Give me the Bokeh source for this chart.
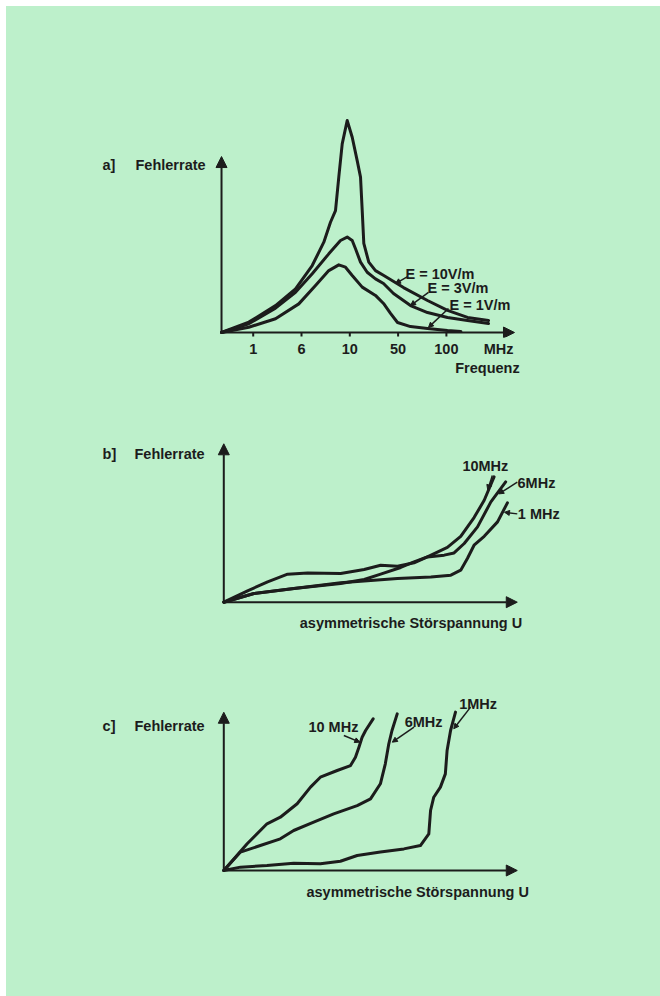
from bokeh.plotting import figure
from bokeh.models import Range1d, Arrow, NormalHead, Label, FixedTicker, LinearAxis, Spacer
from bokeh.layouts import column, row
from bokeh.embed import file_html
from bokeh.resources import INLINE

BG = "#bdf0cb"
INK = "#1c1c1c"
FONT = "Liberation Sans"
FS = "14.5px"

# ---------------- panel a: Fehlerrate vs Frequenz ----------------
freq_ticks = [1, 2, 3, 4, 5]
freq_labels = ["1", "6", "10", "50", "100"]
unit_pos = 6.08
unit_label = "MHz"
xname_pos = 5.85
xname_a = "Frequenz"

a10_x = [0.344, 0.909, 1.462, 1.876, 2.222, 2.462, 2.600, 2.704, 2.772, 2.843, 2.946,
         3.050, 3.153, 3.222, 3.257, 3.290, 3.393, 3.532, 3.704, 4.112, 4.609, 5.023, 5.437, 5.872]
a10_y = [0.0, 4.9, 12.7, 20.6, 31.6, 42.6, 52.0, 57.5, 73.3, 89.0, 100.0,
         92.1, 81.1, 73.3, 57.5, 42.0, 33.2, 29.2, 26.9, 21.2, 15.1, 10.4, 7.1, 5.7]

a3_x = [0.344, 0.909, 1.462, 1.876, 2.222, 2.565, 2.807, 2.946, 3.050, 3.118, 3.222,
        3.360, 3.532, 3.698, 3.905, 4.257, 4.609, 5.023, 5.437, 5.872]
a3_y = [0.0, 4.1, 11.5, 19.0, 27.7, 37.1, 43.4, 45.0, 43.4, 39.5, 33.2,
        28.4, 25.3, 23.1, 18.4, 12.7, 9.4, 7.1, 5.7, 4.2]

a1_x = [0.344, 0.909, 1.462, 1.944, 2.290, 2.565, 2.772, 2.911, 3.050, 3.257, 3.532,
        3.698, 3.843, 3.988, 4.257, 4.609, 5.023, 5.300]
a1_y = [0.0, 2.5, 6.5, 13.5, 22.2, 29.2, 31.9, 30.8, 26.9, 21.4, 17.5,
        13.7, 9.0, 4.7, 2.8, 1.9, 0.9, 0.5]

a_series_labels = ["E = 10V/m", "E = 3V/m", "E = 1V/m"]
a_label_x = [4.153, 4.609, 5.064]
a_label_y = [27.8, 20.8, 13.2]
a_lead_x0 = [4.195, 4.629, 5.043]
a_lead_y0 = [26.4, 18.9, 11.3]
a_lead_x1 = [3.946, 4.257, 4.629]
a_lead_y1 = [23.1, 12.7, 2.4]

# ---------------- panel b ----------------
b10_x = [0, 10.4, 24.2, 40.3, 48.4, 54.1, 61.0, 65.6, 70.2, 77.1, 81.7, 86.3, 89.8, 93.2]
b10_y = [0, 5.4, 8.5, 11.7, 14.2, 17.5, 21.7, 25.2, 28.3, 34.2, 41.2, 52.9, 63.7, 78.3]

b6_x = [0, 8.2, 15.1, 22.0, 28.9, 40.3, 48.4, 54.1, 59.9, 65.6, 70.2, 76.0, 79.4, 82.9, 87.5, 92.1, 97.2]
b6_y = [0, 7.1, 12.7, 17.5, 18.3, 17.9, 20.4, 23.1, 22.5, 24.6, 28.3, 29.4, 30.8, 36.7, 47.1, 62.7, 75.2]

b1_x = [0, 10.4, 24.2, 40.3, 48.4, 59.9, 71.4, 78.3, 81.7, 84.0, 86.3, 89.8, 94.4, 97.8]
b1_y = [0, 5.4, 8.5, 12.1, 13.3, 14.8, 15.8, 16.9, 20.0, 27.3, 35.6, 41.2, 50.2, 62.1]

b_series_labels = ["10MHz", "6MHz", "1 MHz"]
b_label_x = [90.2, 101.3, 101.4]
b_label_y = [85.4, 74.8, 55.2]
b_label_align = ["center", "left", "left"]
b_lead_x0 = [92.6, 101.2, 101.2]
b_lead_y0 = [79.2, 75.0, 55.2]
b_lead_x1 = [91.0, 94.8, 96.8]
b_lead_y1 = [70.2, 67.7, 56.2]

# ---------------- panel c ----------------
c10_x = [0, 8.05, 14.9, 19.5, 25.3, 29.9, 33.3, 39.1, 43.7, 45.4, 46.6, 47.7, 48.9, 51.5]
c10_y = [0, 16.7, 29.2, 33.3, 41.7, 52.1, 58.3, 62.5, 65.6, 70.8, 77.1, 83.3, 87.5, 94.8]

c6_x = [0, 5.75, 12.6, 19.5, 24.1, 31.0, 37.9, 46.0, 50.6, 54.0, 55.7, 56.9, 58.0, 59.8]
c6_y = [0, 11.5, 15.6, 19.8, 25.0, 30.2, 35.4, 40.6, 44.8, 54.2, 66.7, 79.2, 87.5, 97.9]

c1_x = [0, 5.75, 14.9, 24.1, 33.3, 40.2, 46.0, 54.0, 62.1, 67.8, 70.7, 71.3, 72.4, 74.7, 76.4, 77.0, 78.2, 79.9]
c1_y = [0, 2.1, 3.1, 4.6, 4.2, 5.8, 9.4, 11.5, 13.5, 15.6, 22.9, 37.5, 45.8, 52.1, 60.4, 75.0, 87.5, 99.0]

c_series_labels = ["10 MHz", "6MHz", "1MHz"]
c_label_x = [37.8, 68.9, 87.7]
c_label_y = [89.6, 92.7, 104.2]
c_lead_x0 = [41.4, 65.6, 85.1]
c_lead_y0 = [84.4, 89.6, 102.1]
c_lead_x1 = [46.9, 58.1, 79.3]
c_lead_y1 = [80.2, 80.2, 88.6]

x_title = "asymmetrische Störspannung U"
y_title = "Fehlerrate"


def base(width, height, xr, yr, **kw):
    p = figure(width=width, height=height, x_range=Range1d(*xr), y_range=Range1d(*yr),
               output_backend="svg", toolbar_location=None, min_border=0,
               y_axis_location=None, **kw)
    p.grid.visible = False
    p.outline_line_color = None
    p.background_fill_color = None
    p.border_fill_color = BG
    return p


def text(p, x, y, t, align="left", baseline="middle", size=FS):
    p.add_layout(Label(x=x, y=y, text=t, text_align=align, text_baseline=baseline,
                       text_font=FONT, text_font_style="bold", text_font_size=size,
                       text_color=INK))


def axis_arrow(p, x0, y0, x1, y1):
    p.add_layout(Arrow(end=NormalHead(size=11, fill_color=INK, line_color=INK, line_width=1),
                       x_start=x0, y_start=y0, x_end=x1, y_end=y1,
                       line_color=INK, line_width=2))


def leader(p, x0, y0, x1, y1):
    p.add_layout(Arrow(end=NormalHead(size=5, fill_color=INK, line_color=INK, line_width=1),
                       x_start=x0, y_start=y0, x_end=x1, y_end=y1,
                       line_color=INK, line_width=1.5))


def curve(p, x, y):
    p.line(x, y, line_color=INK, line_width=3, line_join="round", line_cap="round")


def style_axis(ax):
    ax.axis_line_color = None
    ax.major_tick_line_color = None
    ax.minor_tick_line_color = None
    ax.major_tick_in = 0
    ax.major_tick_out = 0
    ax.major_label_text_font = FONT
    ax.major_label_text_font_style = "bold"
    ax.major_label_text_font_size = FS
    ax.major_label_text_color = INK


# panel a (page y 6..400)
pa = base(654, 394, (-4.108, 9.433), (-2.358, 153.77), min_border_bottom=63)
ax1 = pa.xaxis[0]
ax1.ticker = FixedTicker(ticks=freq_ticks + [unit_pos], minor_ticks=[])
ax1.major_label_overrides = {**{t: l for t, l in zip(freq_ticks, freq_labels)}, unit_pos: unit_label}
style_axis(ax1)
ax1.major_label_standoff = 3
ax2 = LinearAxis(ticker=FixedTicker(ticks=[xname_pos], minor_ticks=[]),
                 major_label_overrides={xname_pos: xname_a})
style_axis(ax2)
ax2.major_label_standoff = 0
pa.add_layout(ax2, "below")

tick_len = -4 / 2.12
pa.segment(x0=freq_ticks, y0=[0] * len(freq_ticks), x1=freq_ticks, y1=[tick_len] * len(freq_ticks),
           line_color=INK, line_width=2)

for xs, ys in [(a10_x, a10_y), (a3_x, a3_y), (a1_x, a1_y)]:
    curve(pa, xs, ys)
axis_arrow(pa, 0.344, 0, 0.344, 83.0)
axis_arrow(pa, 0.344, 0, 6.41, 0)
text(pa, -2.12, 79.2, "a]")
text(pa, -1.437, 79.2, y_title)
for t, lx, ly in zip(a_series_labels, a_label_x, a_label_y):
    text(pa, lx, ly, t)
for x0, y0, x1, y1 in zip(a_lead_x0, a_lead_y0, a_lead_x1, a_lead_y1):
    leader(pa, x0, y0, x1, y1)

# panel b (page y 400..650)
pb = base(654, 250, (-74.93, 150.59), (-30.19, 126.06), x_axis_location=None)
for xs, ys in [(b10_x, b10_y), (b6_x, b6_y), (b1_x, b1_y)]:
    curve(pb, xs, ys)
axis_arrow(pb, 0, 0, 0, 99.0)
axis_arrow(pb, 0, 0, 101.2, 0)
text(pb, -41.8, 92.7, "b]")
text(pb, -30.8, 92.7, y_title)
text(pb, 102.9, -13.1, x_title, align="right")
for t, lx, ly, al in zip(b_series_labels, b_label_x, b_label_y, b_label_align):
    text(pb, lx, ly, t, align=al)
for x0, y0, x1, y1 in zip(b_lead_x0, b_lead_y0, b_lead_x1, b_lead_y1):
    leader(pb, x0, y0, x1, y1)

# panel c (page y 650..996)
pc = base(654, 346, (-74.93, 150.59), (-78.75, 137.5), x_axis_location=None)
for xs, ys in [(c10_x, c10_y), (c6_x, c6_y), (c1_x, c1_y)]:
    curve(pc, xs, ys)
axis_arrow(pc, 0, 0, 0, 98.9)
axis_arrow(pc, 0, 0, 101.2, 0)
text(pc, -41.8, 90.6, "c]")
text(pc, -30.8, 90.6, y_title)
text(pc, 105.2, -13.6, x_title, align="right")
for t, lx, ly in zip(c_series_labels, c_label_x, c_label_y):
    text(pc, lx, ly, t, align="center")
for x0, y0, x1, y1 in zip(c_lead_x0, c_lead_y0, c_lead_x1, c_lead_y1):
    leader(pc, x0, y0, x1, y1)

panels = column(pa, pb, pc, spacing=0, styles={"background-color": BG})
layout = column(Spacer(height=6),
                row(Spacer(width=6), panels, spacing=0),
                spacing=0)
open("out.html", "w").write(file_html(layout, INLINE))
